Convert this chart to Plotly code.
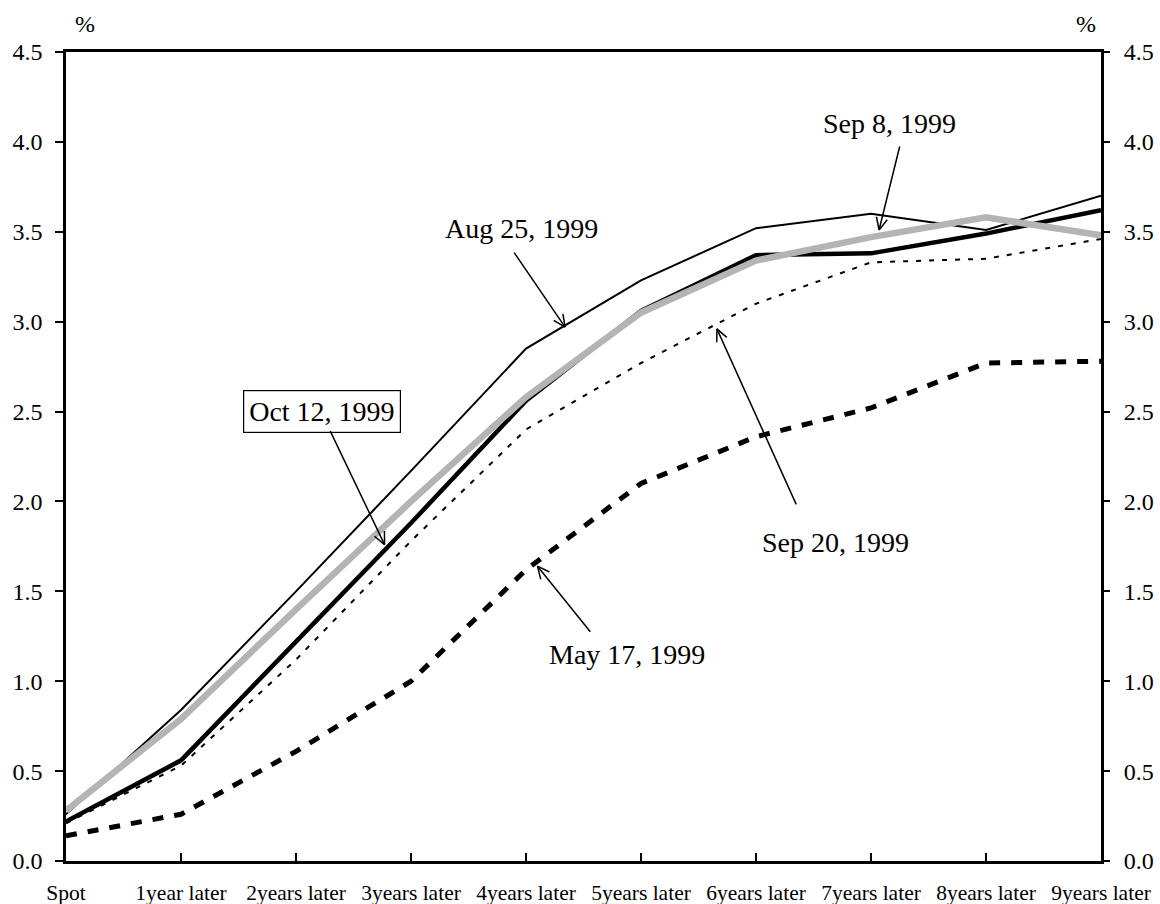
import math
import plotly.graph_objects as go

categories = ["Spot", "1year later", "2years later", "3years later", "4years later",
              "5years later", "6years later", "7years later", "8years later", "9years later"]

aug25 = [0.26, 0.84, 1.50, 2.17, 2.85, 3.23, 3.52, 3.60, 3.51, 3.70]
sep8 = [0.28, 0.79, 1.40, 2.00, 2.58, 3.05, 3.34, 3.47, 3.58, 3.48]
oct12 = [0.22, 0.56, 1.22, 1.88, 2.56, 3.06, 3.37, 3.38, 3.49, 3.62]
sep20 = [0.21, 0.53, 1.12, 1.78, 2.40, 2.77, 3.10, 3.33, 3.35, 3.46]
may17 = [0.14, 0.26, 0.61, 1.00, 1.62, 2.10, 2.36, 2.52, 2.77, 2.78]

y_ticks = [0.0, 0.5, 1.0, 1.5, 2.0, 2.5, 3.0, 3.5, 4.0, 4.5]

FONT = "Liberation Serif, Times New Roman, serif"

fig = go.Figure()
fig.add_trace(go.Scatter(x=categories, y=may17, mode="lines", name="May 17, 1999",
                         yaxis="y2",
                         line=dict(color="black", width=5, dash="11px,11px")))
fig.add_trace(go.Scatter(x=categories, y=aug25, mode="lines", name="Aug 25, 1999",
                         line=dict(color="black", width=2)))
fig.add_trace(go.Scatter(x=categories, y=oct12, mode="lines", name="Oct 12, 1999",
                         line=dict(color="black", width=4.5)))
fig.add_trace(go.Scatter(x=categories, y=sep20, mode="lines", name="Sep 20, 1999",
                         line=dict(color="black", width=2, dash="5px,8px")))
fig.add_trace(go.Scatter(x=categories, y=sep8, mode="lines", name="Sep 8, 1999",
                         line=dict(color="#b4b4b4", width=6.5)))

annotations = []


def add_arrow(tip_x, tip_y, ax, ay):
    annotations.append(dict(x=tip_x, y=tip_y, xref="x", yref="y", ax=ax, ay=ay,
                            text="", showarrow=True, arrowhead=0, arrowwidth=1.5,
                            arrowcolor="black", standoff=0, startstandoff=0))
    L = math.hypot(ax, ay)
    ux, uy = ax / L, ay / L
    for ang in (25, -25):
        a = math.radians(ang)
        wx = (ux * math.cos(a) - uy * math.sin(a)) * 15
        wy = (ux * math.sin(a) + uy * math.cos(a)) * 15
        annotations.append(dict(x=tip_x, y=tip_y, xref="x", yref="y", ax=wx, ay=wy,
                                text="", showarrow=True, arrowhead=0, arrowwidth=1.5,
                                arrowcolor="black", standoff=0, startstandoff=0))


def add_label(x, y, text, box=False):
    d = dict(x=x, y=y, xref="x", yref="y", text=text, showarrow=False,
             font=dict(family=FONT, size=28, color="black"),
             xanchor="center", yanchor="middle")
    if box:
        d.update(bordercolor="black", borderwidth=1.2, bgcolor="white", borderpad=5)
    annotations.append(d)


add_label(3.96, 3.52, "Aug 25, 1999")
add_label(7.16, 4.10, "Sep 8, 1999")
add_label(2.23, 2.50, "Oct 12, 1999", box=True)
add_label(6.69, 1.77, "Sep 20, 1999")
add_label(4.88, 1.15, "May 17, 1999")

add_arrow(4.34, 2.97, -52, -76)
add_arrow(7.07, 3.51, 21, -85)
add_arrow(2.77, 1.76, -55, -115)
add_arrow(5.66, 2.96, 80, 177)
add_arrow(4.10, 1.64, 54, 67)

for xp in (0.018, 0.9855):
    annotations.append(dict(x=xp, y=1.0, xref="paper", yref="paper", text="%",
                            showarrow=False, xanchor="center", yanchor="middle", yshift=28,
                            font=dict(family=FONT, size=24, color="black")))

yfont = dict(family=FONT, size=24, color="black")

fig.update_layout(
    width=1160, height=904,
    margin=dict(l=66, r=59, t=52, b=43, autoexpand=False),
    paper_bgcolor="white", plot_bgcolor="white",
    showlegend=False,
    font=dict(family=FONT, size=22, color="black"),
    xaxis=dict(type="category", categoryorder="array", categoryarray=categories,
               range=[0, 9], showgrid=False, zeroline=False, automargin=False,
               showline=True, linecolor="black", linewidth=2.5, mirror=True,
               ticks="inside", ticklen=8, tickwidth=2, tickcolor="black",
               tickfont=dict(family=FONT, size=21.5, color="black"),
               ticklabelstandoff=10),
    yaxis=dict(range=[0, 4.5], tickvals=y_ticks, tickformat=".1f",
               showgrid=False, zeroline=False, automargin=False,
               showline=True, linecolor="black", linewidth=2.5, mirror=True,
               ticks="outside", ticklen=8, tickwidth=2, tickcolor="black",
               tickfont=yfont, ticklabelstandoff=8),
    yaxis2=dict(range=[0, 4.5], tickvals=y_ticks, tickformat=".1f",
                overlaying="y", side="right", anchor="x", matches="y",
                showgrid=False, zeroline=False, showline=False, automargin=False,
                ticks="outside", ticklen=8, tickwidth=2, tickcolor="black",
                tickfont=yfont, ticklabelstandoff=9),
    annotations=annotations,
)

fig.write_html("out.html", config={"displayModeBar": False},
               post_script="document.body.style.margin='0';document.body.style.overflow='hidden';")
